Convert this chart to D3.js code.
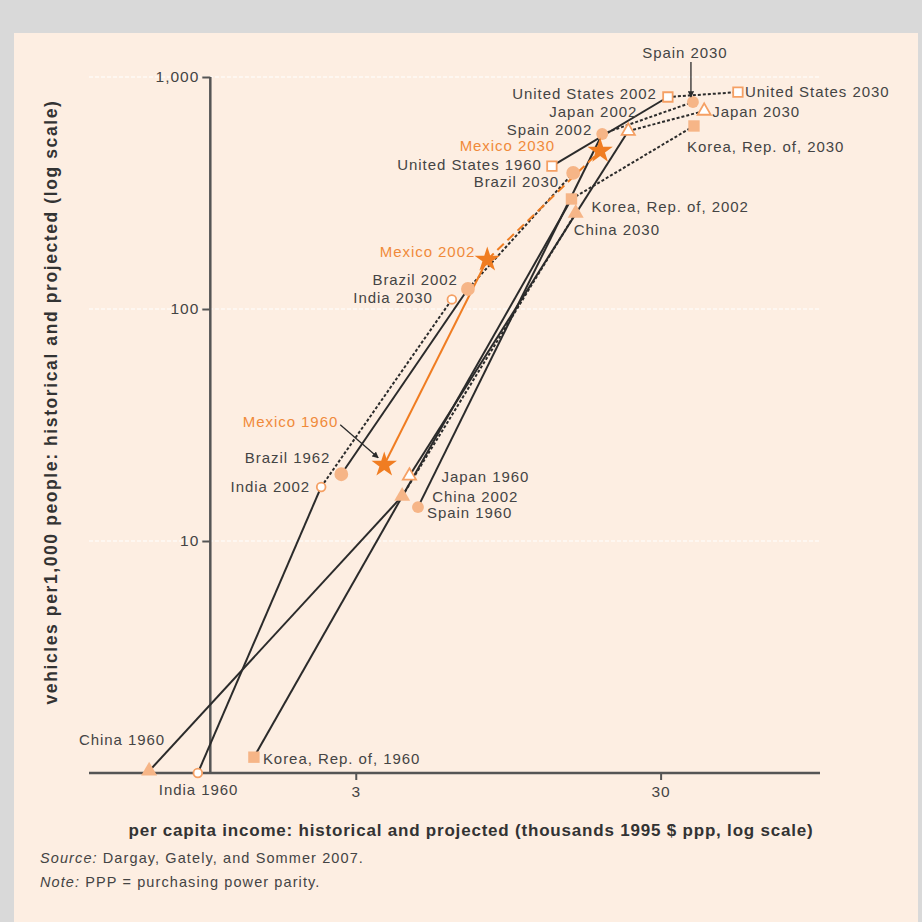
<html lang="en">
<head>
    <meta charset="utf-8">
    <title>Vehicles vs income</title>
    <script type="text/javascript" src="https://cdn.jsdelivr.net/npm/d3@7"></script>
    <style>
        body { margin: 0; background: #d9d9d9; }
        svg { display: block; }
        .lbl { font-family: "Liberation Sans", Arial, sans-serif; font-size: 15px; letter-spacing: 0.95px; fill: #444; }
        .axis text { font-family: "Liberation Sans", Arial, sans-serif; font-size: 15.5px; letter-spacing: 1px; fill: #444; }
        .title { font-family: "Liberation Sans Narrow", "Liberation Sans", sans-serif; font-size: 17px; font-weight: bold; letter-spacing: 0.8px; fill: #333; }
        .ytitle { font-family: "Liberation Sans", Arial, sans-serif; font-size: 17.5px; font-weight: bold; letter-spacing: 1.6px; fill: #333; }
        .note { font-family: "Liberation Sans", Arial, sans-serif; font-size: 14.5px; letter-spacing: 1.1px; fill: #444; }
    </style>
</head>
<body>
<script type="text/javascript">
    // data
    var countries = ["United States", "Spain", "Japan", "Korea, Rep. of,", "China", "India", "Brazil", "Mexico"];
    var startYears = [1960, 1960, 1960, 1960, 1960, 1960, 1962, 1960];
    var incomeStart = [13.2, 4.8, 4.5, 1.39, 0.63, 0.91, 2.69, 3.72];
    var income2002 = [31.7, 19.3, 23.5, 15.3, 4.26, 2.31, 7.0, 8.1];
    var income2030 = [53.8, 38.3, 41.7, 38.6, 15.8, 6.2, 15.5, 19.0];
    var vehStart = [413, 14.0, 19.1, 1.17, 1.02, 1.0, 19.4, 21.3];
    var veh2002 = [820, 568, 585, 298, 15.6, 17.1, 122, 163];
    var veh2030 = [861, 780, 714, 615, 259, 110, 386, 480];
    var xTicks = [3, 30];
    var yTicks = [10, 100, 1000];

    // marker look per country
    var markerType = [d3.symbolSquare, d3.symbolCircle, d3.symbolTriangle, d3.symbolSquare,
                      d3.symbolTriangle, d3.symbolCircle, d3.symbolCircle, d3.symbolStar];
    var markerSize = [90, 110, 75, 130, 110, 60, 150, 200];
    var markerOpen = [true, false, true, false, false, true, false, false];

    // label offsets [dx, dy, anchor] for start, 2002, 2030
    var labelPos = [
        [[-10, 4, "end"], [-11, 2, "end"], [7, 5, "start"]],
        [[9, 11, "start"], [-10, 1, "end"], [-8, -44, "middle"]],
        [[32, 6, "start"], [9, -14, "end"], [8, 6, "start"]],
        [[9, 7, "start"], [20, 13, "start"], [-7, 26, "start"]],
        [[16, -26, "end"], [30, 6, "start"], [-2, 22, "start"]],
        [[-39, 22, "start"], [-11, 5, "end"], [-19, 4, "end"]],
        [[-11, -11, "end"], [-10, -4, "end"], [-14, 14, "end"]],
        [[-46, -38, "end"], [-12, -3, "end"], [-45, 0, "end"]]
    ];

    var W = 922, H = 922;
    var dark = "#2b2b2b", orange = "#f07d22", markFill = "#f6b587", openStroke = "#f5a064";

    var svg = d3.select("body").append("svg")
        .attr("width", W)
        .attr("height", H);

    svg.append("defs").append("marker")
        .attr("id", "arrow")
        .attr("viewBox", "0 0 10 10")
        .attr("refX", 9).attr("refY", 5)
        .attr("markerWidth", 5).attr("markerHeight", 5)
        .attr("orient", "auto")
        .append("path")
        .attr("d", "M0,0 L10,5 L0,10 z")
        .attr("fill", dark);

    svg.append("rect")
        .attr("x", 14).attr("y", 33)
        .attr("width", 904).attr("height", 889)
        .attr("fill", "#fdeee2");

    var xScale = d3.scaleLog().domain([0.4, 100]).range([89, 820]);
    var yScale = d3.scaleLog().domain([1, 1000]).range([773, 77]);

    // grid
    svg.selectAll(".grid")
        .data(yTicks)
        .enter()
        .append("line")
        .attr("x1", xScale(0.4)).attr("x2", xScale(100))
        .attr("y1", function(d) { return yScale(d); })
        .attr("y2", function(d) { return yScale(d); })
        .attr("stroke", "#fff")
        .attr("stroke-width", 1.2)
        .attr("stroke-dasharray", "4,2");

    var yAxis = d3.axisLeft(yScale)
        .tickValues(yTicks)
        .tickSize(8)
        .tickPadding(3)
        .tickFormat(d3.format(","));
    var xAxis = d3.axisBottom(xScale)
        .tickValues(xTicks)
        .tickSize(7)
        .tickPadding(6)
        .tickFormat(d3.format("d"));

    var yAxisG = svg.append("g")
        .attr("class", "axis")
        .attr("transform", "translate(" + xScale(1) + ",0)")
        .call(yAxis);
    yAxisG.select(".domain").remove();
    yAxisG.append("line")
        .attr("y1", yScale(1000)).attr("y2", yScale(1))
        .attr("stroke", "#555").attr("stroke-width", 2.5);
    yAxisG.selectAll(".tick line").attr("stroke", "#555").attr("stroke-width", 2);

    var xAxisG = svg.append("g")
        .attr("class", "axis")
        .attr("transform", "translate(0," + yScale(1) + ")")
        .call(xAxis);
    xAxisG.select(".domain").remove();
    xAxisG.append("line")
        .attr("x1", xScale(0.4)).attr("x2", xScale(100))
        .attr("stroke", "#555").attr("stroke-width", 2.5);
    xAxisG.selectAll(".tick line").attr("stroke", "#555").attr("stroke-width", 2);

    // build segments
    var segs = [];
    countries.forEach(function(c, i) {
        segs.push({i: i, dashed: false, a: [incomeStart[i], vehStart[i]], b: [income2002[i], veh2002[i]]});
        segs.push({i: i, dashed: true, a: [income2002[i], veh2002[i]], b: [income2030[i], veh2030[i]]});
    });

    svg.selectAll(".seg")
        .data(segs)
        .enter()
        .append("line")
        .attr("x1", function(d) { return xScale(d.a[0]); })
        .attr("y1", function(d) { return yScale(d.a[1]); })
        .attr("x2", function(d) { return xScale(d.b[0]); })
        .attr("y2", function(d) { return yScale(d.b[1]); })
        .attr("stroke", function(d) { return d.i == 7 ? orange : dark; })
        .attr("stroke-width", 2)
        .attr("stroke-dasharray", function(d) {
            if (!d.dashed) return null;
            return d.i == 7 ? "9,5" : "3,2";
        });

    // points
    var pts = [];
    countries.forEach(function(c, i) {
        pts.push({i: i, k: 0, year: startYears[i], x: incomeStart[i], y: vehStart[i]});
        pts.push({i: i, k: 1, year: 2002, x: income2002[i], y: veh2002[i]});
        pts.push({i: i, k: 2, year: 2030, x: income2030[i], y: veh2030[i]});
    });

    svg.selectAll(".pt")
        .data(pts)
        .enter()
        .append("path")
        .attr("transform", function(d) { return "translate(" + xScale(d.x) + "," + yScale(d.y) + ")"; })
        .attr("d", function(d) { return d3.symbol().type(markerType[d.i]).size(markerSize[d.i])(); })
        .attr("fill", function(d) {
            if (d.i == 7) return orange;
            return markerOpen[d.i] ? "#fff" : markFill;
        })
        .attr("stroke", function(d) { return markerOpen[d.i] ? openStroke : "none"; })
        .attr("stroke-width", 1.8);

    svg.selectAll(".lbl")
        .data(pts)
        .enter()
        .append("text")
        .attr("class", "lbl")
        .attr("x", function(d) { return xScale(d.x) + labelPos[d.i][d.k][0]; })
        .attr("y", function(d) { return yScale(d.y) + labelPos[d.i][d.k][1]; })
        .attr("text-anchor", function(d) { return labelPos[d.i][d.k][2]; })
        .style("fill", function(d) { return d.i == 7 ? "#f08a3a" : null; })
        .text(function(d) { return countries[d.i] + " " + d.year; });

    // arrows for Spain 2030 and Mexico 1960
    var sx = xScale(income2030[1]), sy = yScale(veh2030[1]);
    svg.append("line")
        .attr("x1", sx - 2).attr("y1", sy - 40)
        .attr("x2", sx - 2).attr("y2", sy - 5)
        .attr("stroke", dark).attr("stroke-width", 1.3)
        .attr("marker-end", "url(#arrow)");
    var mx = xScale(incomeStart[7]), my = yScale(vehStart[7]);
    svg.append("line")
        .attr("x1", mx - 44).attr("y1", my - 40)
        .attr("x2", mx - 6).attr("y2", my - 7)
        .attr("stroke", dark).attr("stroke-width", 1.3)
        .attr("marker-end", "url(#arrow)");

    // titles
    svg.append("text")
        .attr("class", "title")
        .attr("x", 471).attr("y", 836)
        .attr("text-anchor", "middle")
        .text("per capita income: historical and projected (thousands 1995 $ ppp, log scale)");
    svg.append("text")
        .attr("class", "ytitle")
        .attr("transform", "translate(57,402) rotate(-90)")
        .attr("text-anchor", "middle")
        .text("vehicles per1,000 people: historical and projected  (log scale)");

    var src = svg.append("text").attr("class", "note").attr("x", 40).attr("y", 863);
    src.append("tspan").style("font-style", "italic").text("Source:");
    src.append("tspan").text(" Dargay, Gately, and Sommer 2007.");
    var nt = svg.append("text").attr("class", "note").attr("x", 40).attr("y", 887);
    nt.append("tspan").style("font-style", "italic").text("Note:");
    nt.append("tspan").text(" PPP = purchasing power parity.");
</script>
</body>
</html>
